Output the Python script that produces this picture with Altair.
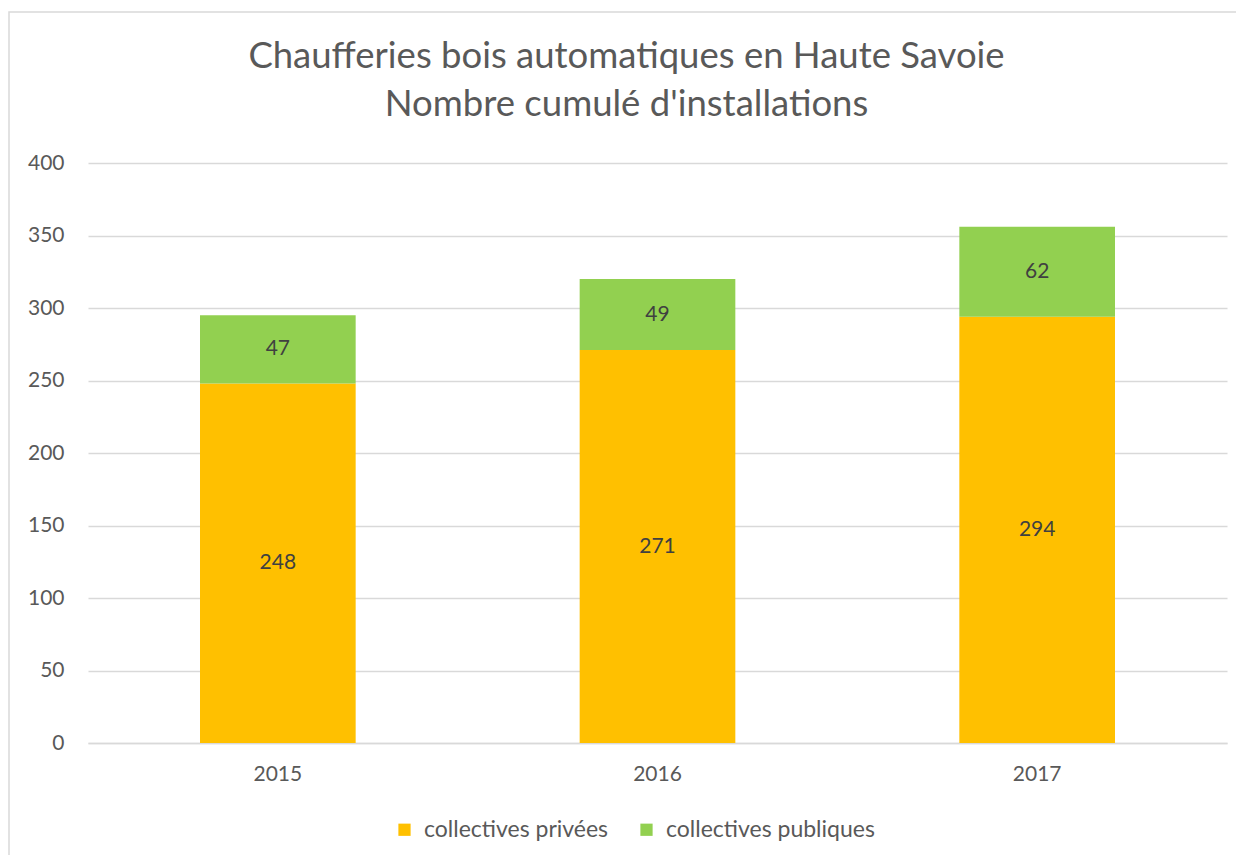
import altair as alt
import pandas as pd

years = ["2015", "2016", "2017"]
privees = [248, 271, 294]
publiques = [47, 49, 62]
series = ["collectives privées", "collectives publiques"]
colors = ["#FFC000", "#92D050"]
y_ticks = [0, 50, 100, 150, 200, 250, 300, 350, 400]
title_lines = ["Chaufferies bois automatiques en Haute Savoie", "Nombre cumulé d'installations"]

rows = []
for i, yr in enumerate(years):
    rows.append({"year": yr, "serie": series[0], "value": privees[i], "ord": 0})
    rows.append({"year": yr, "serie": series[1], "value": publiques[i], "ord": 1})
df = pd.DataFrame(rows)

FONT = "Lato"
TXT = "#595959"
W, H = 1139, 580

xenc = alt.X("year:N", title=None,
             scale=alt.Scale(paddingInner=0.59, paddingOuter=0.295),
             axis=alt.Axis(labelAngle=0, ticks=False, domainColor="#d9d9d9", domainWidth=1.5,
                           labelPadding=20, labelFontSize=21, labelColor=TXT, labelFont=FONT, grid=False))
yscale = alt.Scale(domain=[0, 400])
yaxis = alt.Axis(values=y_ticks, ticks=False, domain=False, gridColor="#d9d9d9", gridWidth=1.5,
                 labelPadding=24, labelFontSize=21, labelColor=TXT, labelFont=FONT)

bars = alt.Chart(df).mark_bar().encode(
    x=xenc,
    y=alt.Y("value:Q", stack="zero", scale=yscale, axis=yaxis, title=None),
    color=alt.Color("serie:N", scale=alt.Scale(domain=series, range=colors),
                    legend=alt.Legend(title=None, orient="none", direction="horizontal",
                                      legendX=305, legendY=655, symbolType="square",
                                      symbolSize=150, symbolStrokeWidth=0, labelFontSize=23,
                                      labelFont=FONT, labelColor=TXT, columnPadding=26,
                                      labelOffset=8, padding=0, labelLimit=0)),
    order=alt.Order("ord:Q"),
)

labels = alt.Chart(df).transform_stack(
    stack="value", groupby=["year"], as_=["v0", "v1"], sort=[alt.SortField("ord")]
).transform_calculate(mid="(datum.v0 + datum.v1) / 2").mark_text(
    font=FONT, fontSize=21, color="#404040"
).encode(
    x=alt.X("year:N"),
    y=alt.Y("mid:Q", scale=yscale, title=None),
    text=alt.Text("value:Q"),
)

frame = alt.Chart(pd.DataFrame({"a": [0]})).mark_rect(
    fill="transparent", stroke="#d9d9d9", strokeWidth=1.5
).encode(x=alt.value(-79), x2=alt.value(W + 200), y=alt.value(-151), y2=alt.value(H + 300))

chart = alt.layer(bars, labels, frame).properties(
    width=W, height=H,
    autosize=alt.AutoSizeParams(type="none"),
    padding={"left": 80, "top": 155, "right": 9, "bottom": 112},
    title=alt.TitleParams(title_lines, font=FONT, fontSize=36.5, fontWeight="normal", color=TXT,
                          anchor="middle", dx=-31, offset=0, baseline="alphabetic",
                          dy=141, lineHeight=48),
).configure_view(stroke=None)

chart.save("out.html", embed_options={"renderer": "svg", "actions": False})
